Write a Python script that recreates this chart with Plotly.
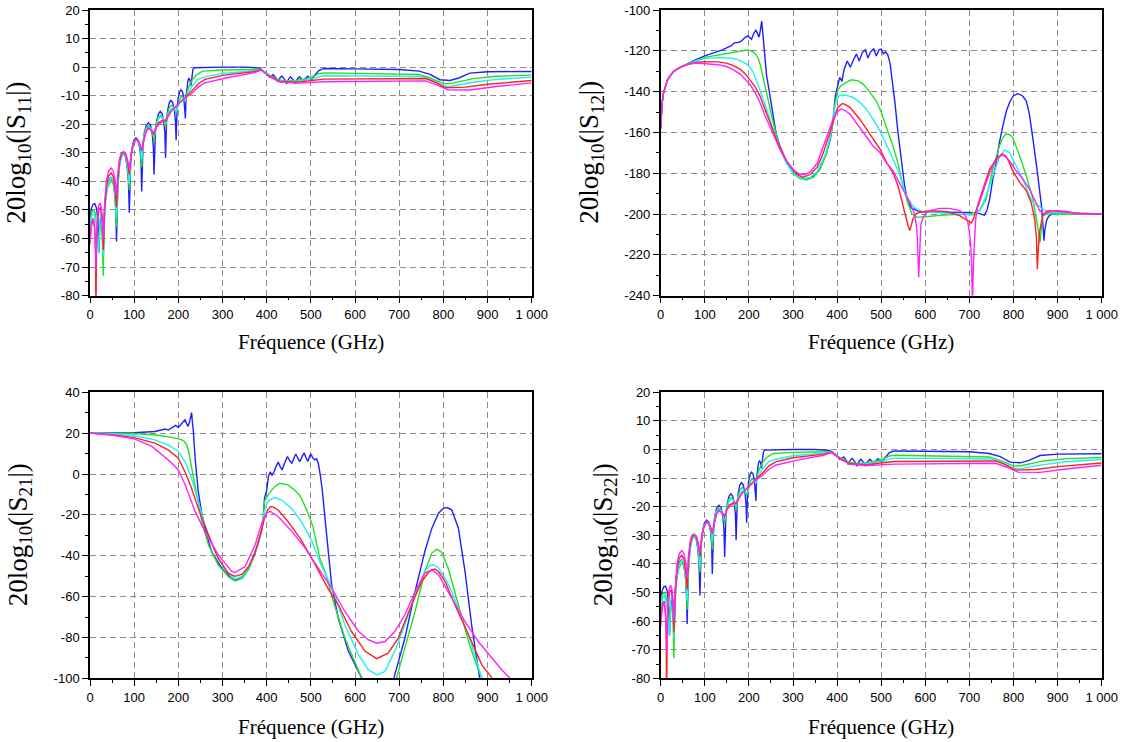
import plotly.graph_objects as go

# ---------------- data (frequency GHz, dB) ----------------
S11_BLUE = [(0,-53),(3,-49.5),(7,-48),(11,-47.8),(15,-49.5),(18,-54),(20,-65),(22,-56),(25,-52),(28,-54),(30.5,-64),(33,-50),(36,-44),(41,-40),(47,-38.5),(52,-40),(56,-44),(58.5,-50),(60,-61),(61.5,-48),(63,-41),(66,-35),(70,-31.5),(75,-30),(80,-31),(84,-34.5),(87,-40),(89,-51),(90.5,-38),(92,-33),(95,-28.5),(99,-25.7),(104,-24.7),(109,-25.5),(113,-28.5),(115.5,-33),(117,-43.5),(118.5,-31.5),(120,-27.5),(123,-23),(127,-20.5),(132,-19.5),(137,-20.3),(141,-23.5),(143.5,-28),(145,-37.6),(146.5,-26.5),(148,-22.5),(151,-18.8),(155,-16.3),(159,-15.5),(163,-16.2),(167,-19),(169.5,-23),(171,-31.7),(172.3,-22),(173.5,-18.5),(176,-15),(179.5,-12.4),(183,-11.6),(187,-12.3),(191,-15),(193.5,-19),(195,-25.6),(196,-18.5),(197,-15),(199.5,-11),(203,-8.6),(206,-7.9),(209.5,-8.6),(212.5,-11),(214.5,-14),(216,-18),(217.5,-10),(219.5,-6.8),(222,-4.5),(224,-4),(226.5,-4.5),(228.5,-6.5),(231,-3),(233,-0.8),(236,-0.2),(260,-0.1),(300,0),(350,0),(383,-0.3),(390,-1.0),(400,-2.3),(406,-3.5),(410,-3.0),(415,-2.6),(420,-3.6),(425,-5.2),(430,-3.8),(434,-3.1),(440,-4.2),(445,-5.8),(450,-4.1),(454,-3.4),(459,-4.3),(464,-5.8),(469,-4.3),(474,-3.4),(479,-4.1),(483,-5.3),(488,-3.9),(493,-3.2),(498,-3.9),(502,-4.4),(507,-3.2),(512,-2.4),(518,-1.2),(525,-0.7),(532,-0.5),(600,-0.6),(700,-0.8),(745,-1.4),(770,-2.5),(792,-4.4),(815,-4.65),(835,-3.8),(860,-2.1),(900,-1.6),(1000,-1.5)]
S11_GREEN = [(0,-55),(3,-51),(8,-50),(12,-51),(15,-55),(19,-62),(22,-56),(25,-55),(28,-60),(30,-73),(32,-55),(35,-47),(40,-42),(48,-39.5),(53,-41),(57,-46),(60,-56),(63,-42),(67,-34.5),(71,-31.5),(76,-30.3),(81,-31.3),(85,-35),(89,-43),(93,-31),(97,-27),(104,-25.2),(110,-26),(114,-28.5),(117,-35),(121,-25),(126,-21.5),(132,-20.5),(138,-21.3),(142,-23),(145,-26),(149,-20.5),(154,-17.5),(159,-16.8),(165,-17.5),(169,-19.5),(171,-21.3),(175,-16.5),(180,-14),(185,-13.3),(191,-14.3),(195,-16.2),(200,-12.5),(206,-10.3),(212,-10.8),(216,-12),(220,-8.5),(225,-6.5),(232,-4.3),(240,-2.8),(255,-1.4),(300,-1.0),(385,-0.8),(395,-1.6),(408,-3.0),(425,-4.3),(442,-4.9),(470,-4.6),(490,-4.0),(505,-3.2),(520,-2.2),(535,-2.0),(745,-2.6),(770,-3.8),(800,-5.8),(820,-5.6),(868,-4.0),(920,-3.2),(1000,-2.8)]
S11_CYAN = [(0,-56),(4,-52),(9,-51),(14,-55),(19.5,-65),(23,-53),(26,-50),(28,-55),(30,-66),(33,-51),(37,-44),(42,-40),(48,-38.5),(53,-40),(57,-45),(60,-53),(63,-41),(67,-34),(71,-31),(76,-30),(81,-31),(85,-34.5),(89,-41),(93,-30.5),(98,-26.5),(104,-25.3),(110,-25.8),(114,-28),(117,-32.3),(121,-25.5),(126,-22),(132,-21),(138,-21.5),(142,-23),(145,-24.5),(150,-20.5),(155,-18.2),(160,-17.3),(166,-18),(171,-20),(177,-16.5),(184,-14.5),(190,-14.5),(195,-15.5),(202,-12.8),(210,-11.2),(216,-11.5),(223,-9),(230,-6.9),(245,-4.3),(260,-3.4),(300,-2.2),(370,-1.4),(387,-1.0),(395,-1.7),(408,-3.2),(426,-4.9),(470,-5.0),(502,-4.0),(530,-3.0),(750,-3.3),(775,-4.6),(800,-6.7),(820,-6.6),(868,-5.3),(920,-4.3),(1000,-3.5)]
S11_RED = [(0,-60),(4,-54),(8,-53),(11,-57),(12.5,-66),(13.5,-90),(14.5,-66),(16,-56),(20,-50),(24,-49),(28,-54),(30,-64),(33,-50),(37,-42),(42,-38),(48,-37),(53,-38.5),(57,-43),(60,-49),(63,-39),(67,-33),(71,-30.5),(76,-29.8),(81,-30.5),(85,-33),(89,-37.5),(93,-31),(98,-27),(104,-25.3),(110,-26),(114,-27.5),(117,-29.4),(122,-25.5),(127,-22.5),(132,-21.3),(138,-22),(142,-23),(145,-23.5),(150,-21),(155,-19.5),(160,-19),(166,-18.5),(171,-19),(177,-17),(183,-15.5),(190,-14.5),(200,-13),(215,-10.9),(230,-8.4),(245,-5.8),(260,-4.3),(300,-2.9),(370,-1.6),(387,-1.0),(395,-1.8),(408,-3.3),(430,-5.0),(470,-5.3),(502,-4.65),(530,-4.2),(760,-4.0),(780,-5.2),(805,-7.2),(850,-7.0),(900,-6.0),(1000,-4.7)]
S11_MAGENTA = [(0,-62),(3,-56),(7,-53),(10,-56),(12.5,-62),(13.5,-71),(14.5,-62),(16,-55),(19,-49),(22,-47.5),(25,-48.5),(28,-53),(30,-60),(33,-48),(37,-40),(42,-36.5),(48,-35.3),(53,-36.5),(57,-40),(60,-45),(63,-37),(67,-32),(71,-30),(76,-29.5),(81,-30.5),(85,-32.5),(89,-36),(93,-30.5),(98,-27),(104,-25.3),(110,-26),(114,-27.5),(117,-29),(122,-25.5),(127,-22.5),(132,-21.5),(138,-22),(145,-23),(150,-21),(160,-19.5),(171,-18.5),(183,-15.7),(200,-12.8),(215,-10.8),(230,-9.2),(245,-7),(260,-5.5),(310,-3.7),(370,-2.0),(387,-1.0),(395,-1.9),(408,-3.5),(430,-5.2),(470,-5.6),(530,-5.1),(760,-4.8),(785,-6.2),(810,-7.9),(860,-8.0),(920,-6.8),(1000,-5.5)]

S12_LOW = [(0,-158),(1,-152),(3,-146),(6,-141),(10,-137.5),(15,-134.5),(22,-132),(30,-130),(45,-128)]
S12_BLUE = S12_LOW + [(63,-126),(80,-124.3),(100,-122.5),(120,-121),(140,-119.5),(160,-117.5),(168,-116),(175,-116),(183,-115.3),(191,-113.5),(198,-112.7),(206,-114.3),(211,-111.5),(216,-109.8),(220,-112),(223,-113.3),(226,-110),(229,-105.4),(231,-110),(234,-118),(240,-132),(247,-141),(255,-153),(262,-161),(270,-166.5),(285,-174.6),(300,-178.7),(319,-182),(330,-182.8),(346,-181.5),(361,-178),(376,-170),(385,-163),(391,-154),(396,-142),(401,-137),(406,-133),(411,-135),(416,-129),(423,-125),(430,-128),(437,-124.5),(444,-121.5),(450,-125),(457,-121),(464,-119.5),(470,-123.5),(476,-120.5),(483,-119),(489,-122.5),(495,-119.5),(500,-119.2),(505,-121.5),(510,-120.5),(515,-122),(520,-126),(524,-132),(531,-145),(538,-160),(545,-173),(553,-186),(560,-194),(568,-197),(587,-198.8),(650,-199.2),(715,-199.3),(734,-200.5),(740,-198),(746,-192.6),(753,-183),(761,-174.7),(768,-165),(776,-156.7),(784,-149.5),(791,-145.3),(800,-142),(810,-141),(820,-142),(829,-144.5),(836,-151),(844,-163),(850,-172),(855,-181),(860,-190),(864,-197),(867,-206),(869,-213),(871,-208),(875,-203),(880,-201),(890,-199.5),(920,-199.8),(1000,-200)]
S12_GREEN = S12_LOW + [(63,-126.2),(80,-124.8),(100,-123.2),(120,-122.4),(149,-121.4),(170,-120.3),(180,-120),(196,-119.6),(205,-120),(210,-120.6),(216,-121.8),(221,-123.5),(226,-127),(232,-132.5),(240,-140.4),(255,-155),(270,-167),(285,-175),(300,-180),(315,-182.5),(330,-183.3),(346,-182),(361,-178),(376,-170.5),(388,-158),(396,-145),(402,-139),(410,-136.8),(421,-135.5),(432,-134.2),(448,-134.7),(459,-136.3),(470,-139),(481,-142),(490,-145),(500,-150),(515,-159),(527,-167),(538,-175),(549,-186),(561,-195),(570,-200),(580,-201.5),(600,-201.3),(640,-200.5),(700,-200),(723,-198.3),(738,-192.6),(753,-178),(768,-166.5),(776,-162.5),(783,-160.8),(791,-161),(798,-162.4),(814,-171.4),(829,-181.2),(844,-192.6),(852,-202),(857,-209),(860,-214),(863,-207),(866,-201),(874,-200),(1000,-200)]
S12_CYAN = S12_LOW + [(63,-126.3),(80,-125),(100,-123.8),(120,-123.4),(140,-123.3),(160,-123.6),(172,-124.1),(185,-125.3),(195,-126.5),(203,-128.3),(210,-130.6),(218,-135),(225,-138.8),(232,-143.5),(240,-148.5),(255,-158.3),(270,-168),(285,-175),(300,-179.5),(323,-182.8),(340,-182),(355,-179),(373,-171),(385,-162),(391,-152),(398,-144.5),(405,-142),(410,-141.8),(421,-141.8),(436,-142.8),(450,-145),(466,-148.5),(480,-153),(497,-159.2),(510,-165),(527,-173),(542,-181),(557,-191),(570,-195.5),(580,-197.6),(595,-198.8),(648,-199.5),(690,-200),(708,-200.5),(715,-200),(723,-198.3),(730,-195),(738,-191),(753,-181.2),(768,-172.2),(780,-168.5),(791,-169.8),(806,-176.3),(821,-182.8),(836,-191),(844,-194.3),(852,-195.6),(858,-196),(866,-197.6),(881,-199.2),(1000,-200)]
S12_RED = S12_LOW + [(63,-126.5),(80,-125.7),(100,-125.3),(130,-125.4),(149,-126),(165,-127.3),(180,-129),(192,-131.3),(202,-133.9),(214,-137.5),(225,-142),(240,-150.2),(262,-163.2),(285,-173.8),(308,-180.4),(323,-182),(340,-180.5),(355,-177),(368,-170.5),(383,-160.5),(395,-151.8),(401,-148),(406,-146.9),(412,-145.8),(420,-146.5),(429,-147.7),(451,-153.4),(466,-158),(481,-163.2),(497,-168),(512,-174.6),(527,-180),(538,-186),(549,-195.9),(557,-202),(561,-205.7),(565,-208.1),(568,-206),(572,-202.4),(580,-199.8),(587,-199.2),(610,-198.3),(648,-198.8),(678,-200.8),(690,-202.5),(697,-203.7),(704,-204.4),(709,-202.5),(715,-198),(723,-193),(731,-187.7),(746,-178),(761,-173),(771,-171),(776,-170.6),(783,-171.8),(790,-174.5),(798,-178.8),(814,-184.5),(829,-188.5),(840,-194.3),(848,-202.4),(852,-212),(854,-227),(856,-218),(859,-208.9),(866,-200.8),(875,-198.7),(881,-198.3),(904,-198.8),(950,-199.6),(1000,-200)]
S12_MAGENTA = S12_LOW + [(63,-126.6),(80,-126),(100,-126.2),(130,-126.8),(149,-127.7),(165,-129.3),(180,-131.4),(192,-133.8),(202,-136.3),(214,-140.5),(225,-145.3),(236,-151.5),(247,-156.7),(258,-162.5),(270,-168.1),(282,-172.8),(293,-176.3),(305,-179),(315,-180.4),(327,-180.7),(340,-179.2),(355,-175),(368,-166.8),(380,-160),(390,-154),(395,-151.5),(402,-149.4),(410,-148.5),(419,-149.4),(429,-151),(440,-154),(451,-157.5),(466,-162),(481,-166.5),(497,-169.8),(512,-175),(527,-178.8),(549,-187.7),(565,-194.3),(572,-198),(576,-200),(580,-206),(582,-212),(585,-231),(588,-212),(590,-205),(595,-201.6),(602,-199.5),(610,-198.3),(632,-197.2),(655,-197.2),(678,-198.3),(690,-200.5),(696,-203.5),(700,-209),(703,-215),(705,-225),(707,-245),(709,-225),(711,-212),(714,-203),(718,-197),(723,-194.3),(738,-184.5),(753,-176.3),(768,-171.7),(777,-171),(791,-173.9),(806,-178.8),(821,-182.8),(836,-187.7),(851,-194.3),(859,-198.3),(866,-199.5),(874,-199.6),(885,-198.6),(897,-198.3),(919,-198.6),(949,-200),(1000,-200)]

S21_BLUE = [(0,20),(50,20),(100,20.2),(147,20.8),(165,21.5),(170,22),(177,21.5),(185,22.5),(194,23.8),(200,22.8),(208,24.5),(215,26.5),(219,24.5),(222,23.3),(226,26),(230,30.1),(232,25),(234,20.8),(238,7.8),(245,-8.5),(252,-18),(260,-26.5),(275,-37.9),(298,-46.1),(320,-51),(328,-52.1),(343,-51),(355,-47.5),(365,-42.8),(380,-34.6),(388,-28),(392,-23.2),(395,-11.8),(400,-8),(404,-1),(408,1),(412,-0.5),(417,1.2),(421,3.5),(426,5.8),(431,3.5),(435,2),(440,5),(447,8.6),(452,6.5),(457,5.3),(462,8),(466,9.8),(471,7.5),(475,6.1),(480,8.5),(485,10.3),(489,8),(493,6.1),(497,8.5),(500,9.8),(504,8),(508,6.9),(513,7.5),(517,5),(521,0),(526,-8),(532,-21.6),(540,-40),(547,-54.2),(562,-70.5),(585,-86.8),(615,-99.9),(630,-110),(675,-112),(690,-98.3),(713,-80.3),(736,-57.5),(758,-37.9),(774,-26.5),(789,-19.2),(800,-16.8),(808,-16.4),(819,-17.5),(834,-26.5),(849,-47.7),(864,-73.8),(879,-96.6),(885,-104)]
S21_GREEN = [(0,20),(50,19.9),(100,19.7),(147,19.2),(177,18.4),(194,17.6),(208,16.7),(214,15.8),(219,14.3),(223,11.5),(226,7.8),(232,1),(238,-6.9),(245,-15),(253,-23.2),(268,-34.6),(290,-44.5),(313,-50.2),(328,-52.3),(345,-51),(360,-46.5),(373,-39.4),(388,-28),(392,-22),(395,-13.4),(403,-10.2),(411,-7.8),(418,-6.2),(429,-4.5),(440,-4.8),(448,-5.3),(463,-7.8),(475,-10.5),(482,-13.5),(490,-17.5),(497,-21),(505,-26),(512,-33),(520,-41),(532,-47.7),(551,-62.4),(577,-80.3),(600,-92),(615,-100),(630,-106),(690,-103),(713,-85),(736,-67.3),(758,-47.7),(774,-38.7),(785,-36.8),(796,-38.3),(811,-46.1),(826,-57.5),(842,-70.5),(857,-82),(872,-91.7),(887,-100),(895,-104)]
S21_CYAN = [(0,20),(50,19.7),(100,18.7),(147,16.7),(177,14.3),(200,11),(215,6.1),(230,-2.1),(245,-13.4),(260,-24.9),(283,-37.9),(305,-46.9),(328,-51.3),(345,-50),(360,-45.5),(373,-39.5),(388,-28.1),(395,-18.3),(401,-14),(407,-12.6),(418,-11.5),(433,-12.6),(456,-16.7),(478,-23.2),(501,-32.2),(523,-44.5),(538,-51),(551,-57.5),(577,-73.8),(608,-88.5),(630,-95.8),(649,-98.3),(668,-96.6),(690,-86.8),(713,-73.8),(736,-59.1),(758,-47.7),(770,-44.7),(777,-44.4),(789,-46),(804,-51),(819,-57.5),(842,-70.5),(864,-83.6),(887,-100),(895,-105)]
S21_RED = [(0,20),(50,19.3),(100,17.8),(147,15.1),(177,11.8),(200,7.8),(215,1.1),(230,-7),(245,-16.7),(268,-29.8),(290,-41.2),(313,-48.5),(328,-50.1),(345,-49),(360,-45),(373,-39),(388,-28),(395,-21.6),(402,-17.5),(409,-15.9),(415,-16.2),(426,-17.6),(448,-23.2),(478,-32.2),(508,-43.6),(540,-56.5),(562,-64),(592,-77.1),(623,-86.8),(649,-90.4),(675,-87.7),(698,-80.3),(728,-64),(751,-52.6),(767,-48),(774,-46.9),(781,-46.5),(790,-48),(804,-52.6),(826,-64),(857,-78.7),(887,-93.4),(911,-100),(920,-103)]
S21_MAGENTA = [(0,20),(50,19),(100,17.2),(140,13.5),(177,7),(200,2),(215,-5),(238,-18.3),(260,-28.1),(290,-39.5),(321,-47.7),(328,-48.2),(351,-45.3),(374,-34.6),(389,-24),(400,-19.2),(408,-18.3),(426,-20.8),(457,-28.1),(487,-36.3),(517,-46.1),(547,-55.9),(577,-67.3),(608,-77.1),(630,-81.1),(649,-82.8),(668,-82),(690,-77.1),(713,-68.9),(736,-57.5),(758,-48.5),(774,-46.9),(789,-49.3),(819,-60.8),(849,-72.2),(879,-82),(909,-90.1),(932,-95.8),(951,-100),(960,-102)]

# S22 reads the same as S11 in the figure
S22_BLUE, S22_GREEN, S22_CYAN, S22_RED, S22_MAGENTA = S11_BLUE, S11_GREEN, S11_CYAN, S11_RED, S11_MAGENTA

X_TICKS = [0, 100, 200, 300, 400, 500, 600, 700, 800, 900, 1000]
X_TICK_TEXT = ["0", "100", "200", "300", "400", "500", "600", "700", "800", "900", "1 000"]
Y_TICKS_S11 = [-80, -70, -60, -50, -40, -30, -20, -10, 0, 10, 20]
Y_TICKS_S12 = [-240, -220, -200, -180, -160, -140, -120, -100]
Y_TICKS_S21 = [-100, -80, -60, -40, -20, 0, 20, 40]

COLORS = {"blue": "#1f1fff", "green": "#22e022", "cyan": "#1ff0f0", "red": "#ff2020", "magenta": "#ff22ff"}

PANELS = [
    ([S11_BLUE, S11_GREEN, S11_CYAN, S11_RED, S11_MAGENTA], "", Y_TICKS_S11, 5),
    ([S12_BLUE, S12_GREEN, S12_CYAN, S12_RED, S12_MAGENTA], "2", Y_TICKS_S12, 10),
    ([S21_BLUE, S21_GREEN, S21_CYAN, S21_RED, S21_MAGENTA], "3", Y_TICKS_S21, 10),
    ([S22_BLUE, S22_GREEN, S22_CYAN, S22_RED, S22_MAGENTA], "4", Y_TICKS_S11, 5),
]

fig = go.Figure()
order = ["blue", "green", "cyan", "red", "magenta"]
for curves, suf, yt, mdt in PANELS:
    for name, pts in zip(order, curves):
        fig.add_trace(go.Scatter(
            x=[p[0] for p in pts], y=[p[1] for p in pts], mode="lines",
            line=dict(color=COLORS[name], width=1.4),
            xaxis="x" + suf, yaxis="y" + suf, showlegend=False, hoverinfo="skip"))

W, H = 1128, 742
xdom_l = [90 / W, 531.7 / W]
xdom_r = [660.7 / W, 1101.7 / W]
ydom_t = [1 - 295.7 / H, 1 - 10 / H]
ydom_b = [1 - 678.3 / H, 1 - 392.3 / H]

tickfont = dict(family="Liberation Sans", size=13, color="black")
common = dict(showline=True, linecolor="black", linewidth=1.5, mirror=True,
              ticks="outside", ticklen=6, tickwidth=1.2, tickcolor="black",
              showgrid=True, gridcolor="#8c8c8c", griddash="6px,4px", gridwidth=1,
              zeroline=False, tickfont=tickfont, automargin=False)

layout = dict(width=W, height=H, margin=dict(l=0, r=0, t=0, b=0),
              paper_bgcolor="white", plot_bgcolor="white")
doms = [(xdom_l, ydom_t), (xdom_r, ydom_t), (xdom_l, ydom_b), (xdom_r, ydom_b)]
for (curves, suf, yt, mdt), (xd, yd) in zip(PANELS, doms):
    layout["xaxis" + suf] = dict(common, domain=xd, range=[0, 1000], tickvals=X_TICKS, ticktext=X_TICK_TEXT,
                                 anchor="y" + suf,
                                 minor=dict(dtick=50, tick0=0, ticks="outside", ticklen=3, tickcolor="black", showgrid=False))
    layout["yaxis" + suf] = dict(common, domain=yd, range=[yt[0], yt[-1]], tickvals=yt,
                                 ticktext=[str(v) for v in yt], anchor="x" + suf,
                                 minor=dict(dtick=mdt, tick0=0, ticks="outside", ticklen=3, tickcolor="black", showgrid=False))
fig.update_layout(**layout)

xfont = dict(family="Liberation Serif, serif", size=21, color="black")
yfont = dict(family="Liberation Serif, serif", size=27, color="black")
ann = []
for xd, yc in [(xdom_l, 1 - 342 / H), (xdom_r, 1 - 342 / H), (xdom_l, 1 - 727 / H), (xdom_r, 1 - 727 / H)]:
    ann.append(dict(text="Fréquence (GHz)", x=(xd[0] + xd[1]) / 2, y=yc, xref="paper", yref="paper",
                    showarrow=False, font=xfont, xanchor="center", yanchor="middle"))
for xp, yd, lab in [(18, ydom_t, "11"), (591, ydom_t, "12"), (20, ydom_b, "21"), (605, ydom_b, "22")]:
    ann.append(dict(text="20log<sub>10</sub>(|S<sub>%s</sub>|)" % lab, x=xp / W, y=(yd[0] + yd[1]) / 2,
                    xref="paper", yref="paper", showarrow=False, font=yfont, textangle=-90,
                    xanchor="center", yanchor="middle"))
fig.update_layout(annotations=ann)

fig.write_html("out.html", config={"displayModeBar": False},
               post_script="document.body.style.margin='0';document.body.style.overflow='hidden';")
